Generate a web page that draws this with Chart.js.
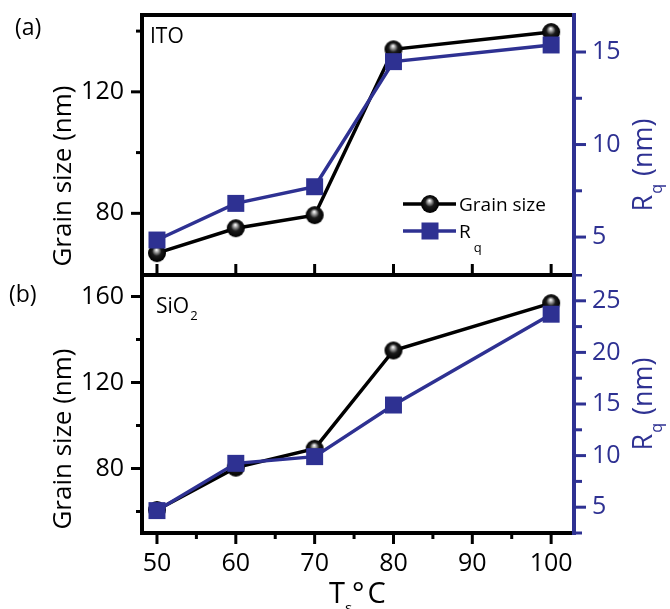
<!DOCTYPE html>
<html>
<head>
<meta charset="utf-8">
<script src="https://cdn.jsdelivr.net/npm/chart.js@4.4.0/dist/chart.umd.min.js"></script>
<style>
  body { margin: 0; background: #fff; width: 670px; height: 609px; position: relative; overflow: hidden; }
  canvas { position: absolute; left: 0; }
  #top { top: 0; }
  #bottom { top: 274px; }
</style>
</head>
<body>
<canvas id="top" width="670" height="276"></canvas>
<canvas id="bottom" width="670" height="335"></canvas>
<script>
// substrate temperature (°C)
const temps = [50, 60, 70, 80, 100];

// (a) ITO
const itoGrain = [66.9, 75.1, 79.4, 134.0, 139.7];
const itoRq = [4.84, 6.82, 7.72, 14.48, 15.38];

// (b) SiO2
const sio2Grain = [60.7, 80.4, 89.2, 134.9, 156.9];
const sio2Rq = [4.67, 9.25, 9.9, 14.9, 23.7];

// ticks
const xMajor = [50, 60, 70, 80, 90, 100];
const xMinor = [55, 65, 75, 85, 95];
const itoGrainMajor = [80, 120];
const itoGrainMinor = [100, 140];
const itoRqMajor = [5, 10, 15];
const itoRqMinor = [7.5, 12.5];
const sio2GrainMajor = [80, 120, 160];
const sio2GrainMinor = [60, 100, 140];
const sio2RqMajor = [5, 10, 15, 20, 25];
const sio2RqMinor = [2.5, 7.5, 12.5, 17.5, 22.5, 27.5];

const BLUE = '#2E3192';
const FONT = '"Open Sans", "Noto Sans", sans-serif';
Chart.defaults.font.family = FONT;

// shaded black ball used as the grain size marker
function makeBall(r) {
  const c = document.createElement('canvas');
  c.width = c.height = 2 * r + 2;
  const g = c.getContext('2d');
  const m = r + 1;
  const grad = g.createRadialGradient(m - 0.5, m - 3.5, 0.3, m, m, r);
  grad.addColorStop(0, '#ffffff');
  grad.addColorStop(0.22, '#9a9a9a');
  grad.addColorStop(0.5, '#1a1a1a');
  grad.addColorStop(1, '#000000');
  g.fillStyle = grad;
  g.beginPath();
  g.arc(m, m, r, 0, Math.PI * 2);
  g.fill();
  return c;
}
const ball = makeBall(9);

const pts = ys => temps.map((t, i) => ({ x: t, y: ys[i] }));

function line(ctx, x1, y1, x2, y2, color, w) {
  ctx.strokeStyle = color;
  ctx.lineWidth = w;
  ctx.beginPath();
  ctx.moveTo(x1, y1);
  ctx.lineTo(x2, y2);
  ctx.stroke();
}

// draws a run of text pieces (for subscripts) centred on x,y
function richText(ctx, x, y, parts, rotate, align) {
  ctx.save();
  ctx.translate(x, y);
  if (rotate) ctx.rotate(-Math.PI / 2);
  ctx.textBaseline = 'alphabetic';
  ctx.textAlign = 'left';
  let total = 0;
  parts.forEach(p => {
    ctx.font = p.size + 'px ' + FONT;
    p.w = ctx.measureText(p.t).width;
    total += p.w + (p.gap || 0);
  });
  let cx = align === 'left' ? 0 : -total / 2;
  parts.forEach(p => {
    ctx.font = p.size + 'px ' + FONT;
    ctx.fillStyle = p.color || '#000';
    ctx.fillText(p.t, cx, p.dy || 0);
    cx += p.w + (p.gap || 0);
  });
  ctx.restore();
}

// keep the axis boxes at fixed sizes, without edge-label padding
function fixSize(w, h) {
  return s => {
    if (w !== null) s.width = w;
    if (h !== null) s.height = h;
    s.paddingTop = s.paddingBottom = s.paddingLeft = s.paddingRight = 0;
  };
}

function framePlugin(cfg) {
  return {
    id: 'frame',
    afterDraw(chart) {
      const { ctx, chartArea: a, scales } = chart;
      ctx.save();
      ctx.lineCap = 'butt';
      // y ticks, pointing outwards
      cfg.leftMajor.forEach(v => { const y = scales.y.getPixelForValue(v); line(ctx, a.left, y, a.left - 11, y, '#000', 3); });
      cfg.leftMinor.forEach(v => { const y = scales.y.getPixelForValue(v); line(ctx, a.left, y, a.left - 6, y, '#000', 3); });
      cfg.rightMajor.forEach(v => { const y = scales.y1.getPixelForValue(v); line(ctx, a.right, y, a.right + 12, y, BLUE, 3); });
      cfg.rightMinor.forEach(v => { const y = scales.y1.getPixelForValue(v); line(ctx, a.right, y, a.right + 8, y, BLUE, 3); });
      // x ticks
      if (cfg.xUp) {
        xMajor.forEach(v => { const x = scales.x.getPixelForValue(v); line(ctx, x, a.bottom, x, a.bottom - 11, '#000', 3); });
      } else {
        xMajor.forEach(v => { const x = scales.x.getPixelForValue(v); line(ctx, x, a.bottom, x, a.bottom + 11, '#000', 3); });
        xMinor.forEach(v => { const x = scales.x.getPixelForValue(v); line(ctx, x, a.bottom, x, a.bottom + 6, '#000', 3); });
      }
      // box
      line(ctx, a.left, a.top - 2, a.left, a.bottom + 2, '#000', 4);
      line(ctx, a.left - 2, a.top, a.right, a.top, '#000', 4);
      line(ctx, a.left - 2, a.bottom, a.right, a.bottom, '#000', 4);
      line(ctx, a.right, a.top - 2, a.right, a.bottom + 2, BLUE, 4);
      cfg.texts(ctx, a);
      ctx.restore();
    }
  };
}

function makePanel(id, grain, rq, cfg) {
  return new Chart(document.getElementById(id), {
    type: 'line',
    data: {
      datasets: [
        {
          label: 'Rq', data: pts(rq), yAxisID: 'y1', order: 0,
          borderColor: BLUE, backgroundColor: BLUE, borderWidth: 3.5,
          pointStyle: 'rect', pointRadius: 12, pointBackgroundColor: BLUE, pointBorderWidth: 0
        },
        {
          label: 'Grain size', data: pts(grain), yAxisID: 'y', order: 1,
          borderColor: '#000', borderWidth: 3.5,
          pointStyle: ball, pointRadius: 9
        }
      ]
    },
    options: {
      responsive: false,
      animation: false,
      events: [],
      layout: { padding: cfg.padding, autoPadding: false },
      plugins: { legend: { display: false }, tooltip: { enabled: false } },
      scales: {
        x: {
          type: 'linear', min: 48.1, max: 102.9, display: cfg.showX,
          afterFit: fixSize(null, cfg.showX ? 76 : 0),
          afterBuildTicks: s => { s.ticks = xMajor.map(v => ({ value: v })); },
          grid: { display: false, drawTicks: false },
          border: { display: false },
          ticks: { padding: 16, color: '#000', font: { size: 25 }, maxRotation: 0, autoSkip: false }
        },
        y: {
          type: 'linear', position: 'left', min: cfg.yMin, max: cfg.yMax,
          afterFit: fixSize(142, null),
          afterBuildTicks: s => { s.ticks = cfg.leftMajor.map(v => ({ value: v })); },
          grid: { display: false, drawTicks: false },
          border: { display: false },
          ticks: { padding: 18, color: '#000', font: { size: 25 } }
        },
        y1: {
          type: 'linear', position: 'right', min: cfg.y1Min, max: cfg.y1Max,
          afterFit: fixSize(96, null),
          afterBuildTicks: s => { s.ticks = cfg.rightMajor.map(v => ({ value: v })); },
          grid: { display: false, drawTicks: false },
          border: { display: false },
          ticks: { padding: 18, color: BLUE, font: { size: 25 } }
        }
      }
    },
    plugins: [framePlugin(cfg)]
  });
}

// R_q (nm) axis title pieces
const rqTitle = () => [
  { t: 'R', size: 27, color: BLUE, gap: 1 },
  { t: 'q', size: 16, dy: 10, color: BLUE, gap: 8 },
  { t: '(nm)', size: 27, color: BLUE }
];

makePanel('top', itoGrain, itoRq, {
  padding: { top: 15, bottom: 1, left: 0, right: 0 },
  showX: false, xUp: true,
  yMin: 59.7, yMax: 145.3, y1Min: 2.95, y1Max: 17.0,
  leftMajor: itoGrainMajor, leftMinor: itoGrainMinor,
  rightMajor: itoRqMajor, rightMinor: itoRqMinor,
  texts(ctx) {
    richText(ctx, 15, 35, [{ t: '(a)', size: 23 }], false, 'left');
    richText(ctx, 150, 43, [{ t: 'ITO', size: 21 }], false, 'left');
    richText(ctx, 71, 176, [{ t: 'Grain size (nm)', size: 26 }], true);
    richText(ctx, 652, 165, rqTitle(), true);
    // legend
    line(ctx, 403, 204, 456, 204, '#000', 3.5);
    ctx.drawImage(ball, 430 - ball.width / 2, 204 - ball.height / 2);
    line(ctx, 403, 231, 456, 231, BLUE, 3.5);
    ctx.fillStyle = BLUE;
    ctx.fillRect(430 - 8.5, 231 - 8.5, 17, 17);
    richText(ctx, 459, 211, [{ t: 'Grain size', size: 19 }], false, 'left');
    richText(ctx, 459, 238, [{ t: 'R', size: 19, gap: 3 }, { t: 'q', size: 13, dy: 14 }], false, 'left');
  }
});

makePanel('bottom', sio2Grain, sio2Rq, {
  padding: { top: 1, bottom: 0, left: 0, right: 0 },
  showX: true, xUp: false,
  yMin: 50, yMax: 170, y1Min: 2.5, y1Max: 27.5,
  leftMajor: sio2GrainMajor, leftMinor: sio2GrainMinor,
  rightMajor: sio2RqMajor, rightMinor: sio2RqMinor,
  texts(ctx) {
    richText(ctx, 9, 28, [{ t: '(b)', size: 23 }], false, 'left');
    richText(ctx, 156, 39, [{ t: 'SiO', size: 21, gap: 1 }, { t: '2', size: 13, dy: 7 }], false, 'left');
    richText(ctx, 71, 165, [{ t: 'Grain size (nm)', size: 26 }], true);
    richText(ctx, 652, 130, rqTitle(), true);
    // x axis title
    richText(ctx, 329, 329, [
      { t: 'T', size: 29 },
      { t: 's', size: 15, dy: 10 },
      { t: '°', size: 29, gap: 3 },
      { t: 'C', size: 29 }
    ], false, 'left');
  }
});
</script>
</body>
</html>
